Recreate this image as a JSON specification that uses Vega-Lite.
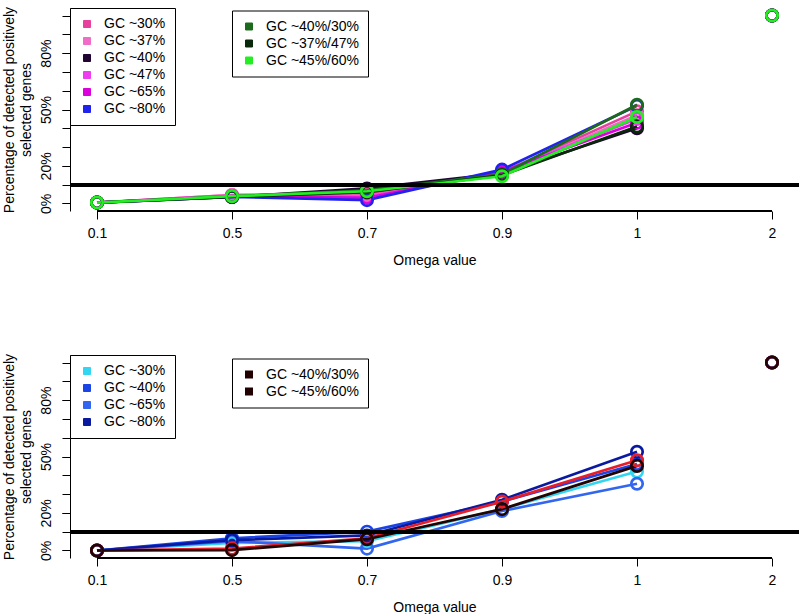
{
  "$schema": "https://vega.github.io/schema/vega-lite/v6.json",
  "padding": {"left": 2, "top": 4, "right": 2, "bottom": 4},
  "config": {
    "font": "Liberation Sans",
    "view": {"stroke": null},
    "axis": {"labelFontSize": 14, "titleFontSize": 14, "titleFontWeight": "normal", "labelColor": "black", "titleColor": "black", "tickColor": "black", "domainColor": "black", "grid": false, "labelFont": "Liberation Sans", "titleFont": "Liberation Sans"},
    "legend": {"labelFontSize": 14, "labelFont": "Liberation Sans", "labelColor": "black", "symbolType": "square", "symbolSize": 49, "padding": 9, "rowPadding": 3, "labelOffset": 10, "symbolOffset": 1, "strokeColor": "black", "fillColor": "white", "symbolStrokeColor": "#1a1a1a", "symbolStrokeWidth": 1}
  },
  "datasets": {
    "top": [
      {"omega": "0.1", "series": "GC ~30%", "group": "single", "pct": 0.5},
      {"omega": "0.5", "series": "GC ~30%", "group": "single", "pct": 4.5},
      {"omega": "0.7", "series": "GC ~30%", "group": "single", "pct": 5.0},
      {"omega": "0.9", "series": "GC ~30%", "group": "single", "pct": 16.5},
      {"omega": "1", "series": "GC ~30%", "group": "single", "pct": 49},
      {"omega": "2", "series": "GC ~30%", "group": "single", "pct": 100},
      {"omega": "0.1", "series": "GC ~37%", "group": "single", "pct": 0.5},
      {"omega": "0.5", "series": "GC ~37%", "group": "single", "pct": 4.5},
      {"omega": "0.7", "series": "GC ~37%", "group": "single", "pct": 4.0},
      {"omega": "0.9", "series": "GC ~37%", "group": "single", "pct": 16},
      {"omega": "1", "series": "GC ~37%", "group": "single", "pct": 47},
      {"omega": "2", "series": "GC ~37%", "group": "single", "pct": 100},
      {"omega": "0.1", "series": "GC ~40%", "group": "single", "pct": 0.5},
      {"omega": "0.5", "series": "GC ~40%", "group": "single", "pct": 3.5},
      {"omega": "0.7", "series": "GC ~40%", "group": "single", "pct": 8.0},
      {"omega": "0.9", "series": "GC ~40%", "group": "single", "pct": 16},
      {"omega": "1", "series": "GC ~40%", "group": "single", "pct": 40},
      {"omega": "2", "series": "GC ~40%", "group": "single", "pct": 100},
      {"omega": "0.1", "series": "GC ~47%", "group": "single", "pct": 0.5},
      {"omega": "0.5", "series": "GC ~47%", "group": "single", "pct": 4.0},
      {"omega": "0.7", "series": "GC ~47%", "group": "single", "pct": 3.5},
      {"omega": "0.9", "series": "GC ~47%", "group": "single", "pct": 17},
      {"omega": "1", "series": "GC ~47%", "group": "single", "pct": 45},
      {"omega": "2", "series": "GC ~47%", "group": "single", "pct": 100},
      {"omega": "0.1", "series": "GC ~65%", "group": "single", "pct": 0.5},
      {"omega": "0.5", "series": "GC ~65%", "group": "single", "pct": 4.0},
      {"omega": "0.7", "series": "GC ~65%", "group": "single", "pct": 3.0},
      {"omega": "0.9", "series": "GC ~65%", "group": "single", "pct": 17},
      {"omega": "1", "series": "GC ~65%", "group": "single", "pct": 43},
      {"omega": "2", "series": "GC ~65%", "group": "single", "pct": 100},
      {"omega": "0.1", "series": "GC ~80%", "group": "single", "pct": 0.5},
      {"omega": "0.5", "series": "GC ~80%", "group": "single", "pct": 3.5},
      {"omega": "0.7", "series": "GC ~80%", "group": "single", "pct": 1.8},
      {"omega": "0.9", "series": "GC ~80%", "group": "single", "pct": 18},
      {"omega": "1", "series": "GC ~80%", "group": "single", "pct": 52},
      {"omega": "2", "series": "GC ~80%", "group": "single", "pct": 100},
      {"omega": "0.1", "series": "GC ~40%/30%", "group": "mixed", "pct": 0.5},
      {"omega": "0.5", "series": "GC ~40%/30%", "group": "mixed", "pct": 3.8},
      {"omega": "0.7", "series": "GC ~40%/30%", "group": "mixed", "pct": 7.0},
      {"omega": "0.9", "series": "GC ~40%/30%", "group": "mixed", "pct": 15.5},
      {"omega": "1", "series": "GC ~40%/30%", "group": "mixed", "pct": 52.5},
      {"omega": "2", "series": "GC ~40%/30%", "group": "mixed", "pct": 100},
      {"omega": "0.1", "series": "GC ~37%/47%", "group": "mixed", "pct": 0.5},
      {"omega": "0.5", "series": "GC ~37%/47%", "group": "mixed", "pct": 3.5},
      {"omega": "0.7", "series": "GC ~37%/47%", "group": "mixed", "pct": 6.0},
      {"omega": "0.9", "series": "GC ~37%/47%", "group": "mixed", "pct": 15},
      {"omega": "1", "series": "GC ~37%/47%", "group": "mixed", "pct": 41},
      {"omega": "2", "series": "GC ~37%/47%", "group": "mixed", "pct": 100},
      {"omega": "0.1", "series": "GC ~45%/60%", "group": "mixed", "pct": 0.5},
      {"omega": "0.5", "series": "GC ~45%/60%", "group": "mixed", "pct": 3.9},
      {"omega": "0.7", "series": "GC ~45%/60%", "group": "mixed", "pct": 6.5},
      {"omega": "0.9", "series": "GC ~45%/60%", "group": "mixed", "pct": 14.5},
      {"omega": "1", "series": "GC ~45%/60%", "group": "mixed", "pct": 46},
      {"omega": "2", "series": "GC ~45%/60%", "group": "mixed", "pct": 100}
    ],
    "bottom": [
      {"omega": "0.1", "series": "GC ~30%", "group": "single", "pct": 0},
      {"omega": "0.5", "series": "GC ~30%", "group": "single", "pct": 4},
      {"omega": "0.7", "series": "GC ~30%", "group": "single", "pct": 5},
      {"omega": "0.9", "series": "GC ~30%", "group": "single", "pct": 22},
      {"omega": "1", "series": "GC ~30%", "group": "single", "pct": 42},
      {"omega": "2", "series": "GC ~30%", "group": "single", "pct": 100},
      {"omega": "0.1", "series": "GC ~40%", "group": "single", "pct": 0},
      {"omega": "0.5", "series": "GC ~40%", "group": "single", "pct": 6.5},
      {"omega": "0.7", "series": "GC ~40%", "group": "single", "pct": 10},
      {"omega": "0.9", "series": "GC ~40%", "group": "single", "pct": 26},
      {"omega": "1", "series": "GC ~40%", "group": "single", "pct": 46},
      {"omega": "2", "series": "GC ~40%", "group": "single", "pct": 100},
      {"omega": "0.1", "series": "GC ~65%", "group": "single", "pct": 0},
      {"omega": "0.5", "series": "GC ~65%", "group": "single", "pct": 5},
      {"omega": "0.7", "series": "GC ~65%", "group": "single", "pct": 1},
      {"omega": "0.9", "series": "GC ~65%", "group": "single", "pct": 21},
      {"omega": "1", "series": "GC ~65%", "group": "single", "pct": 35.5},
      {"omega": "2", "series": "GC ~65%", "group": "single", "pct": 100},
      {"omega": "0.1", "series": "GC ~80%", "group": "single", "pct": 0},
      {"omega": "0.5", "series": "GC ~80%", "group": "single", "pct": 5.5},
      {"omega": "0.7", "series": "GC ~80%", "group": "single", "pct": 8},
      {"omega": "0.9", "series": "GC ~80%", "group": "single", "pct": 27},
      {"omega": "1", "series": "GC ~80%", "group": "single", "pct": 52.5},
      {"omega": "2", "series": "GC ~80%", "group": "single", "pct": 100},
      {"omega": "0.1", "series": "GC ~40%/30%", "group": "mixed", "pct": 0},
      {"omega": "0.5", "series": "GC ~40%/30%", "group": "mixed", "pct": 1},
      {"omega": "0.7", "series": "GC ~40%/30%", "group": "mixed", "pct": 6.5},
      {"omega": "0.9", "series": "GC ~40%/30%", "group": "mixed", "pct": 26},
      {"omega": "1", "series": "GC ~40%/30%", "group": "mixed", "pct": 48},
      {"omega": "2", "series": "GC ~40%/30%", "group": "mixed", "pct": 100},
      {"omega": "0.1", "series": "GC ~45%/60%", "group": "mixed", "pct": 0},
      {"omega": "0.5", "series": "GC ~45%/60%", "group": "mixed", "pct": 0.2},
      {"omega": "0.7", "series": "GC ~45%/60%", "group": "mixed", "pct": 6},
      {"omega": "0.9", "series": "GC ~45%/60%", "group": "mixed", "pct": 22},
      {"omega": "1", "series": "GC ~45%/60%", "group": "mixed", "pct": 45},
      {"omega": "2", "series": "GC ~45%/60%", "group": "mixed", "pct": 100}
    ]
  },
  "vconcat": [
    {
      "width": 729,
      "height": 203,
      "data": {"name": "top"},
      "layer": [
        {
          "transform": [{"filter": "datum.group == 'single'"}],
          "encoding": {
            "x": {"field": "omega", "type": "ordinal", "scale": {"type": "point", "padding": 0.2, "domain": ["0.1", "0.5", "0.7", "0.9", "1", "2"]}, "axis": {"title": "Omega value", "labelAngle": 0, "tickSize": 8, "labelPadding": 7, "titlePadding": 13, "domain": false}},
            "y": {"field": "pct", "type": "quantitative", "scale": {"domain": [-4, 104], "nice": false, "zero": false}, "axis": {"orient": "left", "values": [0, 10, 20, 30, 40, 50, 60, 70, 80, 90, 100], "labels": false, "tickSize": 8, "title": null, "domain": true}},
            "color": {"field": "series", "type": "nominal", "scale": {"domain": ["GC ~30%", "GC ~37%", "GC ~40%", "GC ~47%", "GC ~65%", "GC ~80%"], "range": ["#e8409f", "#f06cc6", "#200533", "#f03cf0", "#dc00dc", "#2222ee"]}, "legend": {"title": null, "orient": "top-left", "offset": 0, "symbolType": "square", "encode": {"symbols": {"update": {"fill": {"signal": "datum.value == 'GC ~30%' ? '#e8409f' : datum.value == 'GC ~37%' ? '#f06cc6' : datum.value == 'GC ~40%' ? '#200533' : datum.value == 'GC ~47%' ? '#f03cf0' : datum.value == 'GC ~65%' ? '#dc00dc' : '#2222ee'"}, "strokeWidth": {"value": 1}}}}}}
          },
          "layer": [
            {"transform": [{"filter": "datum.omega != '2'"}], "mark": {"type": "line", "strokeWidth": 2.7}},
            {"mark": {"type": "point", "shape": "circle", "filled": false, "size": 130, "strokeWidth": 2.7, "opacity": 1}}
          ]
        },
        {
          "transform": [{"filter": "datum.group == 'mixed'"}],
          "encoding": {
            "x": {"field": "omega", "type": "ordinal"},
            "y": {"field": "pct", "type": "quantitative", "axis": {"orient": "left", "values": [0, 20, 50, 80], "labelExpr": "datum.value + '%'", "labelAngle": 270, "labelAlign": "center", "labelBaseline": "bottom", "labelPadding": 9, "tickSize": 8, "labelOverlap": false, "labelFlush": false, "title": ["Percentage of detected positively", "selected genes"], "titlePadding": 6, "titleLineHeight": 17, "domain": false}},
            "color": {"field": "series", "type": "nominal", "scale": {"domain": ["GC ~40%/30%", "GC ~37%/47%", "GC ~45%/60%"], "range": ["#1c6b1c", "#0a280a", "#22ee22"]}, "legend": {"title": null, "orient": "none", "legendX": 162, "legendY": 2.5, "symbolType": "square", "encode": {"symbols": {"update": {"fill": {"signal": "datum.value == 'GC ~40%/30%' ? '#1c6b1c' : datum.value == 'GC ~37%/47%' ? '#0a280a' : '#22ee22'"}, "strokeWidth": {"value": 1}}}}}}
          },
          "layer": [
            {"transform": [{"filter": "datum.omega != '2'"}], "mark": {"type": "line", "strokeWidth": 2.7}},
            {"mark": {"type": "point", "shape": "circle", "filled": false, "size": 130, "strokeWidth": 2.7, "opacity": 1}}
          ]
        },
        {"mark": {"type": "rule", "strokeWidth": 3, "color": "black"}, "encoding": {"y": {"datum": 10, "axis": null}}},
        {"mark": {"type": "rule", "strokeWidth": 1, "color": "black"}, "encoding": {"x": {"datum": "0.1", "type": "ordinal"}, "x2": {"datum": "2"}, "y": {"datum": -4, "axis": null}}}
      ],
      "resolve": {"scale": {"color": "independent"}, "axis": {"y": "independent"}}
    },
    {
      "width": 729,
      "height": 203,
      "data": {"name": "bottom"},
      "layer": [
        {
          "transform": [{"filter": "datum.group == 'single'"}],
          "encoding": {
            "x": {"field": "omega", "type": "ordinal", "scale": {"type": "point", "padding": 0.2, "domain": ["0.1", "0.5", "0.7", "0.9", "1", "2"]}, "axis": {"title": "Omega value", "labelAngle": 0, "tickSize": 8, "labelPadding": 7, "titlePadding": 13, "domain": false}},
            "y": {"field": "pct", "type": "quantitative", "scale": {"domain": [-4, 104], "nice": false, "zero": false}, "axis": {"orient": "left", "values": [0, 10, 20, 30, 40, 50, 60, 70, 80, 90, 100], "labels": false, "tickSize": 8, "title": null, "domain": true}},
            "color": {"field": "series", "type": "nominal", "scale": {"domain": ["GC ~30%", "GC ~40%", "GC ~65%", "GC ~80%"], "range": ["#33d6f2", "#1a44e6", "#3366f0", "#0a1aa0"]}, "legend": {"title": null, "orient": "top-left", "offset": 0, "symbolType": "square", "encode": {"symbols": {"update": {"fill": {"signal": "datum.value == 'GC ~30%' ? '#33d6f2' : datum.value == 'GC ~40%' ? '#1a44e6' : datum.value == 'GC ~65%' ? '#3366f0' : '#0a1aa0'"}, "strokeWidth": {"value": 1}}}}}}
          },
          "layer": [
            {"transform": [{"filter": "datum.omega != '2'"}], "mark": {"type": "line", "strokeWidth": 2.7}},
            {"mark": {"type": "point", "shape": "circle", "filled": false, "size": 130, "strokeWidth": 2.7, "opacity": 1}}
          ]
        },
        {
          "transform": [{"filter": "datum.group == 'mixed'"}],
          "encoding": {
            "x": {"field": "omega", "type": "ordinal"},
            "y": {"field": "pct", "type": "quantitative", "axis": {"orient": "left", "values": [0, 20, 50, 80], "labelExpr": "datum.value + '%'", "labelAngle": 270, "labelAlign": "center", "labelBaseline": "bottom", "labelPadding": 9, "tickSize": 8, "labelOverlap": false, "labelFlush": false, "title": ["Percentage of detected positively", "selected genes"], "titlePadding": 6, "titleLineHeight": 17, "domain": false}},
            "color": {"field": "series", "type": "nominal", "scale": {"domain": ["GC ~40%/30%", "GC ~45%/60%"], "range": ["#e61e2a", "#220404"]}, "legend": {"title": null, "orient": "none", "legendX": 162, "legendY": 3.5, "symbolType": "square", "symbolSize": 64, "encode": {"symbols": {"update": {"fill": {"value": "#220000"}, "strokeOpacity": {"value": 0}}}}}}
          },
          "layer": [
            {"transform": [{"filter": "datum.omega != '2'"}], "mark": {"type": "line", "strokeWidth": 2.7}},
            {"mark": {"type": "point", "shape": "circle", "filled": false, "size": 130, "strokeWidth": 2.7, "opacity": 1}}
          ]
        },
        {"mark": {"type": "rule", "strokeWidth": 3, "color": "black"}, "encoding": {"y": {"datum": 10, "axis": null}}},
        {"mark": {"type": "rule", "strokeWidth": 1, "color": "black"}, "encoding": {"x": {"datum": "0.1", "type": "ordinal"}, "x2": {"datum": "2"}, "y": {"datum": -4, "axis": null}}}
      ],
      "resolve": {"scale": {"color": "independent"}, "axis": {"y": "independent"}}
    }
  ],
  "spacing": 144,
  "bounds": "flush",
  "resolve": {"scale": {"color": "independent"}}
}
